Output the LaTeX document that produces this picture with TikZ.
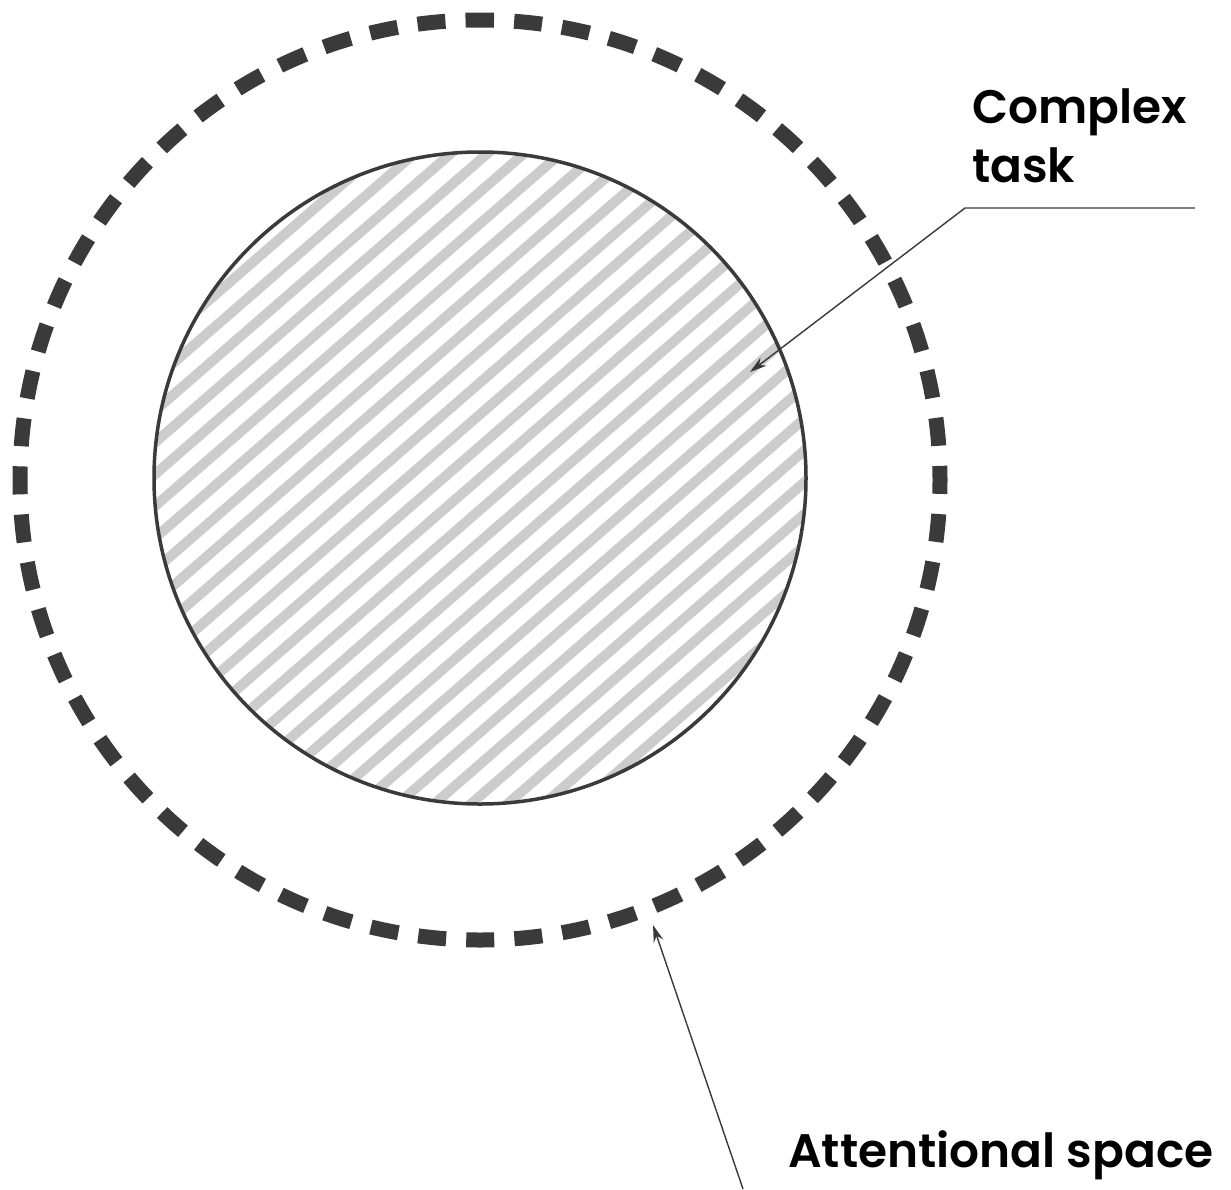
\documentclass[tikz,border=0pt]{standalone}
\usepackage{fontspec}
\setmainfont{Poppins}[UprightFont=* SemiBold]
\usetikzlibrary{arrows.meta}
\definecolor{ink}{HTML}{3A3A3A}
\definecolor{hatch}{HTML}{CCCCCC}
\tikzset{
  outerring/.style={draw=ink, line width=15pt, dash pattern=on 28pt off 20.17pt, dash phase=14pt},
  innerring/.style={draw=ink, line width=3.5pt},
  hatchline/.style={draw=hatch, line width=10pt},
  leader/.style={draw=ink, line width=1.4pt},
  leadarrow/.style={leader, -{Stealth[length=17pt,width=10pt]}},
  label/.style={font=\fontsize{47}{59}\selectfont, anchor=base west, inner sep=0pt, text=black}
}
\begin{document}
\begin{tikzpicture}[x=1pt,y=-1pt]
\useasboundingbox[fill=white] (0,0) rectangle (1231,1189);
\coordinate (C) at (480,478);
% hatch
\begin{scope}
\clip (C) circle[radius=326];
\begin{scope}[shift={(C)}, rotate=41]
\foreach \k in {-16,...,16} {
  \draw[hatchline] (-420,\k*24) -- (420,\k*24);
}
\end{scope}
\end{scope}
\draw[innerring] (C) circle[radius=326];
% outer dashed ring
\draw[outerring] (480,20) arc[start angle=270, end angle=630, radius=460];
% labels
\node[label] (ct1) at (972,123) {Complex};
\node[label] (ct2) at (972,182) {task};
\node[label] (as) at (788,1167) {Attentional space};
% leaders
\coordinate (ctend) at (1195,208);
\coordinate (ctbend) at (965,208);
\coordinate (cttip) at (750,372);
\draw[leadarrow] (ctend) -- (ctbend) -- (cttip);
\coordinate (asstart) at (743,1189);
\coordinate (astip) at (653,925);
\draw[leadarrow] (asstart) -- (astip);
\end{tikzpicture}
\end{document}
